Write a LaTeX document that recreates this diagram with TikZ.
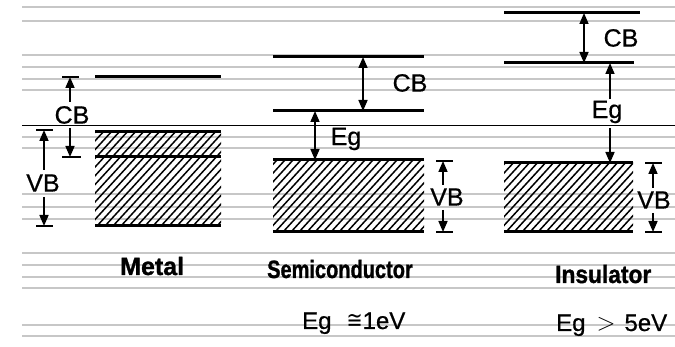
\documentclass[tikz,border=0pt]{standalone}
\usepackage{fontspec}
\usepackage{graphicx}
\setmainfont{Liberation Sans}
\newfontfamily\labfont[FakeBold=0.6]{Liberation Sans}
\newfontfamily\ttlfont[FakeBold=1.2]{Liberation Sans Bold}
\newfontfamily\symfont{DejaVu Sans}
\usetikzlibrary{arrows.meta}
\begin{document}
\begin{tikzpicture}[x=1pt,y=-1pt,
  band/.style={line width=3pt},
  tip/.tip={Triangle[length=11pt,width=9pt]},
  dimarrow/.style={line width=1.6pt,-tip},
  ddimarrow/.style={line width=1.6pt,tip-tip},
  tickline/.style={line width=1.6pt},
  lab/.style={font=\labfont\fontsize{25}{25}\selectfont, inner sep=0pt},
  ttl/.style={font=\ttlfont\fontsize{25}{25}\selectfont, inner sep=0pt, anchor=base west},
  sub/.style={font=\labfont\fontsize{24}{24}\selectfont, inner sep=0pt, anchor=base west},
  ruleline/.style={draw=black!22, line width=1.2pt},
  hatchline/.style={line width=1.5pt}
]
\fill[white] (0,0) rectangle (675,347);
\useasboundingbox (0,0) rectangle (675,347);

% background ruled lines
\foreach \yy in {7,21,55,67,79,90,137,148,194,207,219,253,265,277,288,325,336}
  \draw[ruleline] (22,\yy) -- (675,\yy);
\draw[line width=0.9pt] (22,125.5) -- (675,125.5);

% hatching helper
\newcommand\hatchbox[4]{%
  \begin{scope}
    \clip (#1,#2) rectangle (#3,#4);
    \foreach \k in {0,...,40}
      \draw[hatchline] ({#1-110+\k*8},#4) -- ++(110,-120);
  \end{scope}}

% ---------------- Metal ----------------
\hatchbox{95}{132}{221}{226}
\draw[band] (95,77) -- (221,77);
\draw[band] (95,132) -- (221,132);
\draw[band] (95,157) -- (221,157);
\draw[band] (95,226) -- (221,226);

\coordinate (mCBtop) at (70,77);
\coordinate (mCBbot) at (70,157);
\coordinate (mCBa) at (70,102);
\coordinate (mCBb) at (70,128);
\node[lab] (mCB) at (72,115) {CB};
\draw[tickline] (62,77) -- (79,77);
\draw[tickline] (62,157) -- (81,157);
\draw[dimarrow] (mCBa) -- (mCBtop);
\draw[dimarrow] (mCBb) -- (mCBbot);

\coordinate (mVBtop) at (44,130);
\coordinate (mVBbot) at (44,226);
\coordinate (mVBa) at (44,170);
\coordinate (mVBb) at (44,197);
\node[lab] (mVB) at (43,183) {VB};
\draw[tickline] (36,130) -- (53,130);
\draw[tickline] (36,226) -- (53,226);
\draw[dimarrow] (mVBa) -- (mVBtop);
\draw[dimarrow] (mVBb) -- (mVBbot);

\node[ttl] (metal) at (120,275) {Metal};

% ---------------- Semiconductor ----------------
\hatchbox{273}{160}{424}{232}
\draw[band] (273,57) -- (424,57);
\draw[band] (273,111) -- (424,111);
\draw[band] (273,160) -- (424,160);
\draw[band] (273,232) -- (424,232);

\coordinate (sCBtop) at (363,57);
\coordinate (sCBbot) at (363,111);
\draw[ddimarrow] (sCBtop) -- (sCBbot);
\node[lab] (sCB) at (410,83) {CB};

\coordinate (sEgtop) at (315,111);
\coordinate (sEgbot) at (315,160);
\draw[ddimarrow] (sEgtop) -- (sEgbot);
\node[lab] (sEg) at (346,139) {Eg};

\coordinate (sVBtop) at (443,161);
\coordinate (sVBbot) at (443,232);
\coordinate (sVBa) at (443,185);
\coordinate (sVBb) at (443,210);
\node[lab] (sVB) at (447,197) {VB};
\draw[tickline] (436,161) -- (453,161);
\draw[tickline] (436,232) -- (453,232);
\draw[dimarrow] (sVBa) -- (sVBtop);
\draw[dimarrow] (sVBb) -- (sVBbot);

\node[ttl] (semi) at (267,278) {\scalebox{0.8}[1]{Semiconductor}};
\node[sub] (semiEg) at (302,329) {Eg\hspace{15pt}{\symfont\scalebox{0.8}[1]{≅}}1eV};

% ---------------- Insulator ----------------
\hatchbox{504}{163}{633}{232}
\draw[band] (504,13) -- (640,13);
\draw[band] (504,63) -- (634,63);
\draw[band] (504,163) -- (633,163);
\draw[band] (504,232) -- (633,232);

\coordinate (iCBtop) at (584,13);
\coordinate (iCBbot) at (584,63);
\draw[ddimarrow] (iCBtop) -- (iCBbot);
\node[lab] (iCB) at (621,38) {CB};

\coordinate (iEgtop) at (610,63);
\coordinate (iEgbot) at (610,163);
\coordinate (iEga) at (610,99);
\coordinate (iEgb) at (610,128);
\node[lab] (iEg) at (607,112) {Eg};
\draw[dimarrow] (iEga) -- (iEgtop);
\draw[dimarrow] (iEgb) -- (iEgbot);

\coordinate (iVBtop) at (653,163);
\coordinate (iVBbot) at (653,232);
\coordinate (iVBa) at (653,188);
\coordinate (iVBb) at (653,213);
\node[lab] (iVB) at (654,200) {VB};
\draw[tickline] (645,163) -- (662,163);
\draw[tickline] (645,232) -- (662,232);
\draw[dimarrow] (iVBa) -- (iVBtop);
\draw[dimarrow] (iVBb) -- (iVBbot);

\node[ttl] (ins) at (555,283) {\scalebox{0.91}[1]{Insulator}};
\node[sub] (insEg) at (556,331) {Eg\hspace{11pt}$>$\hspace{9pt}5eV};
\end{tikzpicture}
\end{document}
